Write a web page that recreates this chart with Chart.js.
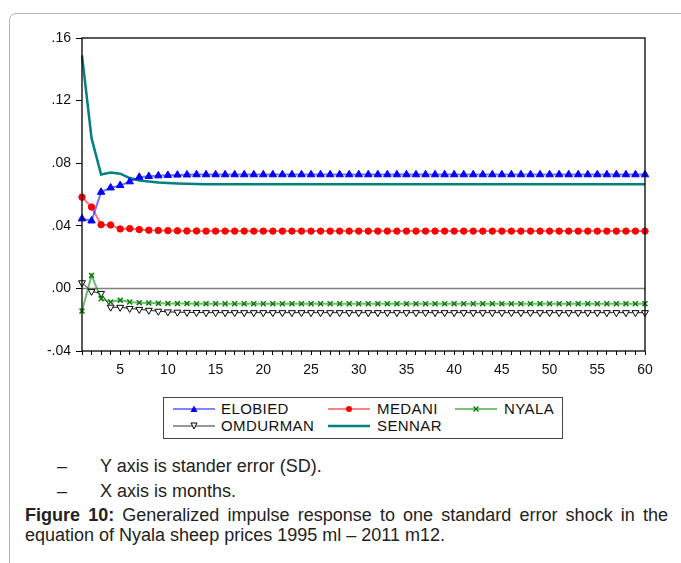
<!DOCTYPE html>
<html>
<head>
<meta charset="utf-8">
<script src="https://cdn.jsdelivr.net/npm/chart.js@4.4.1/dist/chart.umd.min.js"></script>
<style>
  body { margin: 0; background: #fff; font-family: "Liberation Sans", Arial, sans-serif; }
  #page { position: relative; width: 681px; height: 563px; overflow: hidden; }
  #frame { position: absolute; left: 9px; top: 13px; width: 720px; height: 620px;
           border: 1px solid #b4b4b4; border-radius: 7px; }
  #wrap { position: absolute; left: 0; top: 0; width: 681px; height: 390px; }
  #legend { position: absolute; left: 163px; top: 397px; width: 398px; height: 40px;
            border: 1px solid #444; font-size: 15px; color: #111; }
  .item { position: absolute; height: 16px; line-height: 16px; }
  .item svg { position: absolute; left: 0; top: 3px; }
  .item span { position: absolute; white-space: nowrap; letter-spacing: 0.4px; }
  .cap { position: absolute; white-space: nowrap; color: #222; font-size: 18px; line-height: 20px;
         font-family: "Liberation Sans", Arial, sans-serif; }
</style>
</head>
<body>
<div id="page">
  <div id="frame"></div>
  <div id="wrap"><canvas id="chart"></canvas></div>

  <div id="legend">
    <div class="item" style="left:9px;top:3px;">
      <svg width="42" height="10"><line x1="0" y1="5" x2="42" y2="5" stroke="#5a5aff" stroke-width="1.5"/><polygon points="21,1.5 24.5,8 17.5,8" fill="#0000ff"/></svg>
      <span style="left:48px;">ELOBIED</span>
    </div>
    <div class="item" style="left:164px;top:3px;">
      <svg width="42" height="10"><line x1="0" y1="5" x2="42" y2="5" stroke="#ff5a5a" stroke-width="1.5"/><circle cx="21" cy="5" r="3" fill="#ff0000"/></svg>
      <span style="left:49px;">MEDANI</span>
    </div>
    <div class="item" style="left:291px;top:3px;">
      <svg width="42" height="10"><line x1="0" y1="5" x2="42" y2="5" stroke="#4caf4c" stroke-width="1.5"/><path d="M18.5,2.5 L23.5,7.5 M23.5,2.5 L18.5,7.5" stroke="#008000" stroke-width="1.3"/></svg>
      <span style="left:49px;">NYALA</span>
    </div>
    <div class="item" style="left:9px;top:20px;">
      <svg width="42" height="10"><line x1="0" y1="5" x2="42" y2="5" stroke="#333" stroke-width="1"/><polygon points="18,2 24,2 21,8" fill="#fff" stroke="#000" stroke-width="1"/></svg>
      <span style="left:48px;">OMDURMAN</span>
    </div>
    <div class="item" style="left:164px;top:20px;">
      <svg width="42" height="10"><line x1="0" y1="5" x2="42" y2="5" stroke="#008080" stroke-width="2.5"/></svg>
      <span style="left:49px;">SENNAR</span>
    </div>
  </div>

  <div class="cap" style="left:57px;top:456px;">–</div>
  <div class="cap" style="left:100px;top:456px;">Y axis is stander error (SD).</div>
  <div class="cap" style="left:57px;top:481px;">–</div>
  <div class="cap" style="left:100px;top:481px;">X axis is months.</div>
  <div class="cap" style="left:25px;top:505px;width:643px;text-align:justify;text-align-last:justify;"><b>Figure 10:</b> Generalized impulse response to one standard error shock in the</div>
  <div class="cap" style="left:25px;top:525px;">equation of Nyala sheep prices 1995 ml – 2011 m12.</div>
</div>

<script>
// months after the shock
var months = [1,2,3,4,5,6,7,8,9,10,11,12,13,14,15,16,17,18,19,20,
  21,22,23,24,25,26,27,28,29,30,31,32,33,34,35,36,37,38,39,40,
  41,42,43,44,45,46,47,48,49,50,51,52,53,54,55,56,57,58,59,60];

var elobied = [0.0445,0.0432,0.0615,0.0643,0.0658,0.0682,0.0711,0.0716,0.0720,0.0723,
  0.0725,0.0726,0.0727,0.0727,0.0727,0.0727,0.0727,0.0727,0.0727,0.0727,
  0.0727,0.0727,0.0727,0.0727,0.0727,0.0727,0.0727,0.0727,0.0727,0.0727,
  0.0727,0.0727,0.0727,0.0727,0.0727,0.0727,0.0727,0.0727,0.0727,0.0727,
  0.0727,0.0727,0.0727,0.0727,0.0727,0.0727,0.0727,0.0727,0.0727,0.0727,
  0.0727,0.0727,0.0727,0.0727,0.0727,0.0727,0.0727,0.0727,0.0727,0.0727];

var medani = [0.0583,0.0520,0.0407,0.0405,0.0380,0.0382,0.0376,0.0372,0.0370,0.0369,
  0.0368,0.0367,0.0367,0.0366,0.0366,0.0366,0.0366,0.0366,0.0366,0.0366,
  0.0366,0.0366,0.0366,0.0366,0.0366,0.0366,0.0366,0.0366,0.0366,0.0366,
  0.0366,0.0366,0.0366,0.0366,0.0366,0.0366,0.0366,0.0366,0.0366,0.0366,
  0.0366,0.0366,0.0366,0.0366,0.0366,0.0366,0.0366,0.0366,0.0366,0.0366,
  0.0366,0.0366,0.0366,0.0366,0.0366,0.0366,0.0366,0.0366,0.0366,0.0366];

var nyala = [-0.0145,0.0083,-0.0066,-0.0087,-0.0075,-0.0087,-0.0091,-0.0093,-0.0095,-0.0096,
  -0.0097,-0.0097,-0.0098,-0.0098,-0.0098,-0.0098,-0.0098,-0.0098,-0.0098,-0.0098,
  -0.0098,-0.0098,-0.0098,-0.0098,-0.0098,-0.0098,-0.0098,-0.0098,-0.0098,-0.0098,
  -0.0098,-0.0098,-0.0098,-0.0098,-0.0098,-0.0098,-0.0098,-0.0098,-0.0098,-0.0098,
  -0.0098,-0.0098,-0.0098,-0.0098,-0.0098,-0.0098,-0.0098,-0.0098,-0.0098,-0.0098,
  -0.0098,-0.0098,-0.0098,-0.0098,-0.0098,-0.0098,-0.0098,-0.0098,-0.0098,-0.0098];

var omdurman = [0.0036,-0.0019,-0.0032,-0.0120,-0.0121,-0.0128,-0.0134,-0.0140,-0.0146,-0.0150,
  -0.0152,-0.0153,-0.0154,-0.0155,-0.0155,-0.0155,-0.0155,-0.0155,-0.0155,-0.0155,
  -0.0155,-0.0155,-0.0155,-0.0155,-0.0155,-0.0155,-0.0155,-0.0155,-0.0155,-0.0155,
  -0.0155,-0.0155,-0.0155,-0.0155,-0.0155,-0.0155,-0.0155,-0.0155,-0.0155,-0.0155,
  -0.0155,-0.0155,-0.0155,-0.0155,-0.0155,-0.0155,-0.0155,-0.0155,-0.0155,-0.0155,
  -0.0155,-0.0155,-0.0155,-0.0155,-0.0155,-0.0155,-0.0155,-0.0155,-0.0155,-0.0155];

var sennar = [0.1489,0.0960,0.0728,0.0740,0.0733,0.0705,0.0690,0.0683,0.0677,0.0673,
  0.0670,0.0668,0.0667,0.0666,0.0665,0.0665,0.0665,0.0665,0.0665,0.0665,
  0.0665,0.0665,0.0665,0.0665,0.0665,0.0665,0.0665,0.0665,0.0665,0.0665,
  0.0665,0.0665,0.0665,0.0665,0.0665,0.0665,0.0665,0.0665,0.0665,0.0665,
  0.0665,0.0665,0.0665,0.0665,0.0665,0.0665,0.0665,0.0665,0.0665,0.0665,
  0.0665,0.0665,0.0665,0.0665,0.0665,0.0665,0.0665,0.0665,0.0665,0.0665];

var yTicks = [-0.04, 0, 0.04, 0.08, 0.12, 0.16];

function fmtTick(v) {
  var s = Math.abs(v).toFixed(2).replace(/^0/, '');
  return (v < -1e-9 ? '-' : '') + s;
}

// zero line + frame around the plot
const framePlugin = {
  id: 'frame',
  beforeDatasetsDraw(chart) {
    const ctx = chart.ctx, a = chart.chartArea;
    const y0 = chart.scales.y.getPixelForValue(0);
    ctx.save();
    ctx.strokeStyle = '#808080';
    ctx.lineWidth = 1.5;
    ctx.beginPath();
    ctx.moveTo(a.left, y0);
    ctx.lineTo(a.right, y0);
    ctx.stroke();
    ctx.restore();
  },
  afterDraw(chart) {
    const ctx = chart.ctx, a = chart.chartArea;
    ctx.save();
    ctx.strokeStyle = '#000';
    ctx.lineWidth = 1.3;
    ctx.strokeRect(a.left, a.top, a.right - a.left, a.bottom - a.top);
    ctx.restore();
  }
};

new Chart(document.getElementById('chart'), {
  type: 'line',
  data: {
    labels: months,
    datasets: [
      { label: 'ELOBIED', data: elobied, borderColor: 'rgba(0,0,255,0.55)', borderWidth: 2,
        pointStyle: 'triangle', pointRadius: 4.3, backgroundColor: '#0000ff', pointBorderColor: '#0000ff', pointBorderWidth: 1 },
      { label: 'MEDANI', data: medani, borderColor: 'rgba(255,0,0,0.55)', borderWidth: 2,
        pointStyle: 'circle', pointRadius: 3.2, backgroundColor: '#ff0000', pointBorderColor: '#ff0000', pointBorderWidth: 1 },
      { label: 'NYALA', data: nyala, borderColor: 'rgba(0,128,0,0.55)', borderWidth: 2,
        pointStyle: 'crossRot', pointRadius: 3.5, backgroundColor: '#008000', pointBorderColor: '#008000', pointBorderWidth: 1.5 },
      { label: 'OMDURMAN', data: omdurman, borderColor: '#222', borderWidth: 1,
        pointStyle: 'triangle', pointRotation: 180, pointRadius: 4, backgroundColor: '#fff', pointBorderColor: '#000', pointBorderWidth: 1 },
      { label: 'SENNAR', data: sennar, borderColor: '#008080', borderWidth: 2.5, pointRadius: 0 }
    ]
  },
  options: {
    responsive: true,
    maintainAspectRatio: false,
    animation: false,
    events: [],
    layout: { padding: { top: 38, right: 36, left: 0, bottom: 0 } },
    plugins: { legend: { display: false }, tooltip: { enabled: false } },
    elements: { line: { tension: 0 } },
    scales: {
      x: {
        type: 'category',
        offset: false,
        border: { display: false },
        grid: { drawOnChartArea: false, drawTicks: true, tickLength: 4, color: '#000', tickWidth: 1 },
        ticks: {
          autoSkip: false, maxRotation: 0, padding: 7, color: '#111',
          font: { family: 'Liberation Sans, Arial', size: 14 },
          callback: function (v, i) { var m = months[i]; return m % 5 === 0 ? String(m) : ''; }
        },
        afterFit: function (s) { s.height = 39; }
      },
      y: {
        min: -0.04, max: 0.16,
        border: { display: false },
        grid: { drawOnChartArea: false, drawTicks: true, tickLength: 6, color: '#000', tickWidth: 1 },
        afterBuildTicks: function (s) { s.ticks = yTicks.map(v => ({ value: v })); },
        ticks: {
          padding: 5, color: '#111',
          font: { family: 'Liberation Sans, Arial', size: 14 },
          callback: fmtTick
        },
        afterFit: function (s) { s.width = 82; }
      }
    }
  },
  plugins: [framePlugin]
});
</script>
</body>
</html>
